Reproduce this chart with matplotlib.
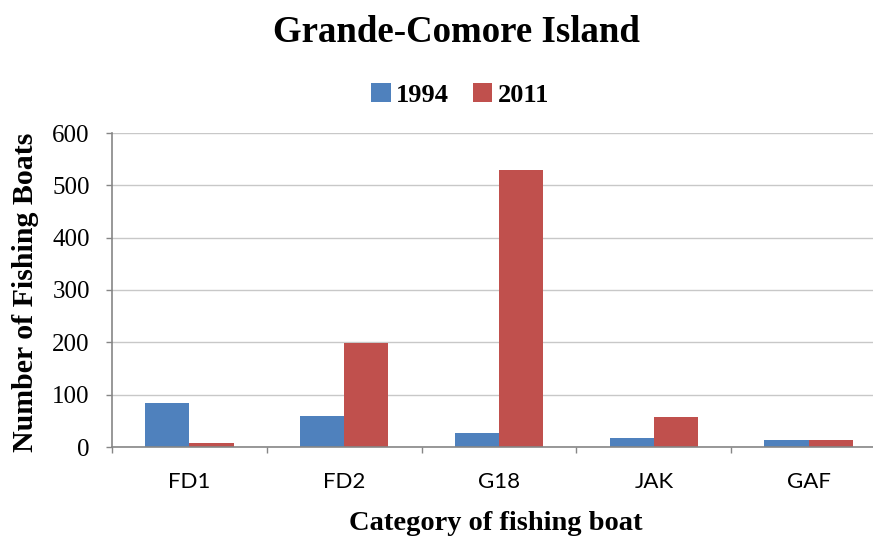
import numpy as np
import matplotlib
matplotlib.use('Agg')
import matplotlib.pyplot as plt
from matplotlib.ticker import FixedLocator, NullFormatter

categories = ['FD1', 'FD2', 'G18', 'JAK', 'GAF']
boats_1994 = [85, 60, 26, 17, 13]
boats_2011 = [7, 199, 530, 58, 13]
series_labels = ['1994', '2011']
y_ticks = [0, 100, 200, 300, 400, 500, 600]

blue = '#4F81BD'
red = '#C0504D'
serif = ['Liberation Serif', 'DejaVu Serif']
sans = ['Lato', 'DejaVu Sans']

fig = plt.figure(figsize=(8.73, 5.38), dpi=100)
ax = fig.add_axes([112 / 873, 91 / 538, 774 / 873, 314 / 538])

x = np.arange(len(categories))
w = 0.285
b1 = ax.bar(x - w / 2, boats_1994, w, color=blue, zorder=3, label=series_labels[0])
b2 = ax.bar(x + w / 2, boats_2011, w, color=red, zorder=3, label=series_labels[1])

ax.set_xlim(-0.5, len(categories) - 0.5)
ax.set_ylim(0, 600)
ax.set_yticks(y_ticks)
ax.yaxis.grid(True, color='#c8c8c8', linewidth=1.0, zorder=0)

# category boundaries get the tick marks, centres get the labels
ax.xaxis.set_major_locator(FixedLocator(np.arange(-0.5, len(categories), 1.0)))
ax.xaxis.set_major_formatter(NullFormatter())
ax.xaxis.set_minor_locator(FixedLocator(x))
ax.set_xticklabels(categories, minor=True)
ax.tick_params(axis='x', which='major', length=4, width=1, color='#868686', direction='out')
ax.tick_params(axis='x', which='minor', length=0, pad=18, labelsize=16)
for t in ax.get_xticklabels(minor=True):
    t.set_family(sans)

ax.tick_params(axis='y', length=4, width=1, color='#868686', direction='out', pad=12, labelsize=18)
for t in ax.get_yticklabels():
    t.set_family(serif)

for s in ['top', 'right']:
    ax.spines[s].set_visible(False)
for s in ['left', 'bottom']:
    ax.spines[s].set_color('#868686')
    ax.spines[s].set_linewidth(1.2)
ax.spines['bottom'].set_zorder(4)

ax.set_ylabel('Number of Fishing Boats', family=serif, fontweight='bold', fontsize=21.5)
ax.yaxis.set_label_coords(-0.094, 0.494)

fig.text(456 / 873, 1 - 42 / 538, 'Grande-Comore Island', family=serif, fontweight='bold',
         fontsize=26.6, ha='center', va='baseline')
fig.text(496 / 873, 1 - 530 / 538, 'Category of fishing boat', family=serif, fontweight='bold',
         fontsize=20.5, ha='center', va='baseline')

fig.legend(handles=[b1, b2], loc='center', bbox_to_anchor=(460 / 873, 1 - 95 / 538), ncol=2,
           frameon=False, prop={'family': serif, 'size': 19, 'weight': 'bold'},
           handlelength=0.75, handleheight=0.75, handletextpad=0.2, columnspacing=0.9)

fig.savefig('out.png', dpi=100)
